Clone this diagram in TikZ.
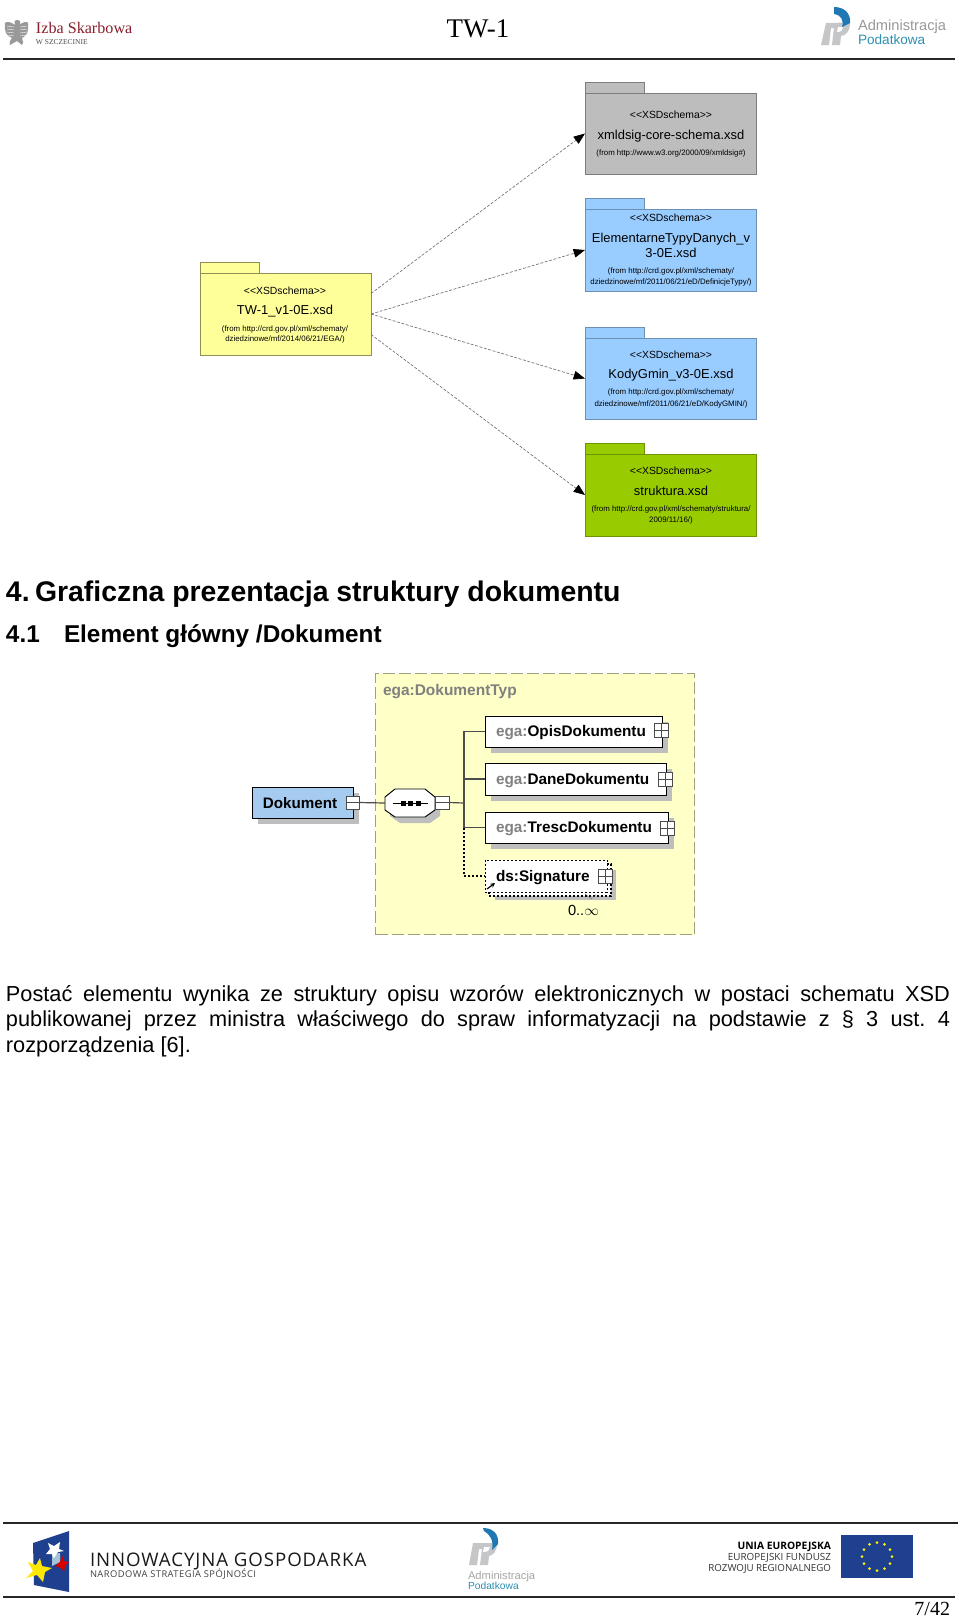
\documentclass[tikz,border=0pt]{standalone}
\usepackage{fontspec}
\setmainfont{Liberation Sans}
\newfontfamily\timesf{Liberation Serif}
\newfontfamily\condf{Open Sans}
\usetikzlibrary{calc,arrows.meta}
\definecolor{pkgY}{HTML}{FFFF99}
\definecolor{pkgYb}{HTML}{8F8F55}
\definecolor{pkgG}{HTML}{BDBDBD}
\definecolor{pkgGb}{HTML}{7D7D7D}
\definecolor{pkgB}{HTML}{99CCFF}
\definecolor{pkgBb}{HTML}{6C90B4}
\definecolor{pkgL}{HTML}{99CC00}
\definecolor{pkgLb}{HTML}{6E9200}
\definecolor{xsdbg}{HTML}{FFFFC8}
\definecolor{xsdborder}{HTML}{A0A080}
\definecolor{xsdblue}{HTML}{A6CBF0}
\definecolor{shadow}{HTML}{BEBEBE}
\definecolor{logoblue}{HTML}{1F78B4}
\definecolor{logogrey}{HTML}{C4C6C8}
\definecolor{logoteal}{HTML}{2F8FB0}
\definecolor{izba}{HTML}{8A1F2B}
\definecolor{navy}{HTML}{1F3F8F}
\newcommand{\fsz}[1]{\fontsize{#1}{#1}\selectfont}
\newcommand{\sttxt}{<{}<XSDschema>{}>}
\tikzset{
 x=0.75pt,y=-0.75pt,
 lbl/.style={inner sep=0pt,outer sep=0pt,anchor=base},
 lbll/.style={inner sep=0pt,outer sep=0pt,anchor=base west},
 lblr/.style={inner sep=0pt,outer sep=0pt,anchor=base east},
 stereo/.style={lbl,font=\fsz{7.8}},
 pname/.style={lbl,font=\fsz{9.7}},
 pfrom/.style={lbl,font=\fsz{5.9}},
 pkgbody/.style={draw=#1,line width=0.6pt,inner sep=0pt,outer sep=0pt,anchor=north west},
 pkgtab/.style={draw=#1,line width=0.6pt},
 dep/.style={draw=black!55,line width=0.5pt,dash pattern=on 2.2pt off 1.2pt,-{Triangle[length=8.5pt,width=6.5pt,black]}},
 xbox/.style={draw=black,line width=0.7pt,fill=white,inner sep=0pt,outer sep=0pt,anchor=north west},
 shad/.style={fill=shadow,draw=none},
 xline/.style={draw=black!70,line width=0.9pt},
 xdot/.style={draw=black,line width=0.8pt,dash pattern=on 1.5pt off 1.5pt},
 exp/.style={draw=black!70,line width=0.6pt,fill=white,inner sep=0pt,outer sep=0pt,anchor=north west},
}
\begin{document}
\begin{tikzpicture}
\useasboundingbox (0,0) rectangle (960,1617);
\fill[white] (0,0) rectangle (960,1617);
% ---------- header
\draw[line width=1.5pt,black!85] (3,58.7) -- (955,58.7);
\node[lbl,font=\timesf\fsz{20.2}] (title) at (478,37) {TW-1};
\node[lbll,font=\timesf\fsz{12.1},text=izba] (izbaname) at (36,33) {Izba Skarbowa};
\node[lbll,font=\timesf\fsz{5.6},text=black!70] (izbacity) at (36,44) {W SZCZECINIE};
% eagle
\fill[black!40] (17,20) .. controls (21,20) and (21,23) .. (19,25) .. controls (23,22) and (27,21) .. (28,23) .. controls (29,31) and (27,36) .. (22,38) .. controls (23,41) and (24,44) .. (22,45) .. controls (20,43) and (18,42) .. (17,41) .. controls (15,42) and (12,44) .. (10,45) .. controls (9,43) and (10,40) .. (12,38) .. controls (6,36) and (4,31) .. (5,23) .. controls (7,21) and (11,22) .. (15,25) .. controls (14,23) and (14,20) .. (17,20) -- cycle;
\foreach \yy in {26,29,32,35}{\draw[white,line width=0.3pt] (7,\yy) -- (14,\yy+1) (20,\yy+1) -- (27,\yy);}
% admin logo header
\fill[logogrey] (826,23) -- (850,22.5) .. controls (850,32) and (846,35) .. (841,36) -- (840,45) -- (832,45) -- (834,28) -- (831,28) -- (829,45) -- (821,45) -- cycle;
\fill[white] (838,27) -- (843,27) .. controls (843,30) and (841,32) .. (837,32) -- cycle;
\fill[logoblue] (834,7) .. controls (844,7) and (851,13) .. (850,23) -- (842,27) .. controls (844,20) and (841,15) .. (834,14) -- cycle;
\node[lbll,font=\fsz{11},text=black!40] (adminA) at (858,30) {Administracja};
\node[lbll,font=\fsz{10.2},text=logoteal] (adminP) at (858,44) {Podatkowa};
% ---------- packages
\fill[pkgY] (200,262) rectangle (259,273);
\draw[pkgtab=pkgYb] (200,262) rectangle (259,273);
\node[pkgbody=pkgYb,fill=pkgY,minimum width=128.25pt,minimum height=61.5pt] (yellow) at (200,273) {};
\node[stereo] (y1) at (285,294) {\sttxt};
\node[pname] (y2) at (285,314) {TW-1\_v1-0E.xsd};
\node[pfrom] (y3) at (285,331) {(from http://crd.gov.pl/xml/schematy/};
\node[pfrom] (y4) at (285,341.5) {dziedzinowe/mf/2014/06/21/EGA/)};

\fill[pkgG] (585,82) rectangle (644,93);
\draw[pkgtab=pkgGb] (585,82) rectangle (644,93);
\node[pkgbody=pkgGb,fill=pkgG,minimum width=128.25pt,minimum height=60.75pt] (gray) at (585,93) {};
\node[stereo] (g1) at (671,118) {\sttxt};
\node[pname] (g2) at (671,139) {xmldsig-core-schema.xsd};
\node[pfrom] (g3) at (671,155) {(from http://www.w3.org/2000/09/xmldsig\#)};

\fill[pkgB] (585,198) rectangle (644,209);
\draw[pkgtab=pkgBb] (585,198) rectangle (644,209);
\node[pkgbody=pkgBb,fill=pkgB,minimum width=128.25pt,minimum height=61.5pt] (blueA) at (585,209) {};
\node[stereo] (a1) at (671,221) {\sttxt};
\node[pname] (a2) at (671,242) {ElementarneTypyDanych\_v};
\node[pname] (a3) at (671,257) {3-0E.xsd};
\node[pfrom] (a4) at (671,273) {(from http://crd.gov.pl/xml/schematy/};
\node[pfrom] (a5) at (671,284) {dziedzinowe/mf/2011/06/21/eD/DefinicjeTypy/)};

\fill[pkgB] (585,327) rectangle (644,338);
\draw[pkgtab=pkgBb] (585,327) rectangle (644,338);
\node[pkgbody=pkgBb,fill=pkgB,minimum width=128.25pt,minimum height=60.75pt] (blueB) at (585,338) {};
\node[stereo] (b1) at (671,358) {\sttxt};
\node[pname] (b2) at (671,378) {KodyGmin\_v3-0E.xsd};
\node[pfrom] (b3) at (671,394) {(from http://crd.gov.pl/xml/schematy/};
\node[pfrom] (b4) at (671,406) {dziedzinowe/mf/2011/06/21/eD/KodyGMIN/)};

\fill[pkgL] (585,443) rectangle (644,454);
\draw[pkgtab=pkgLb] (585,443) rectangle (644,454);
\node[pkgbody=pkgLb,fill=pkgL,minimum width=128.25pt,minimum height=61.5pt] (green) at (585,454) {};
\node[stereo] (c1) at (671,474) {\sttxt};
\node[pname] (c2) at (671,495) {struktura.xsd};
\node[pfrom] (c3) at (671,511) {(from http://crd.gov.pl/xml/schematy/struktura/};
\node[pfrom] (c4) at (671,522) {2009/11/16/)};

\draw[dep] ($(yellow.north east)!.25!(yellow.south east)$) -- (gray.west);
\draw[dep] (yellow.east) -- (blueA.west);
\draw[dep] (yellow.east) -- (blueB.west);
\draw[dep] ($(yellow.north east)!.75!(yellow.south east)$) -- (green.west);
% ---------- headings
\node[lbll,font=\fsz{21.3}\bfseries] (h1n) at (6,601) {4.};
\node[lbll,font=\fsz{21.3}\bfseries] (h1) at (35,601) {Graficzna prezentacja struktury dokumentu};
\node[lbll,font=\fsz{18.25}\bfseries] (h2n) at (6,642) {4.1};
\node[lbll,font=\fsz{18.25}\bfseries] (h2) at (64,642) {Element główny /Dokument};
% ---------- xsd diagram
\node[draw=xsdborder,fill=xsdbg,line width=1pt,dash pattern=on 9pt off 3pt,inner sep=0pt,anchor=north west,minimum width=239.25pt,minimum height=195.75pt] (ctype) at (375,673) {};
\node[lbll,font=\fsz{11.6}\bfseries,text=black!50] (ctypeL) at (383,695) {ega:DokumentTyp};
% shadows
\fill[shad] (258,793) rectangle (359,824);
\fill[shad] (400,795) -- (430,795) -- (440,803) -- (440,816) -- (430,823) -- (400,823) -- (390,816) -- (390,803) -- cycle;
\fill[shad] (491,722) rectangle (668,753);
\fill[shad] (491,769) rectangle (672,801);
\fill[shad] (491,818) rectangle (674,849);
\fill[shad] (495,870) rectangle (616,900);
% connector skeleton
\coordinate (bus) at (464,803);
\node[xbox,fill=xsdblue,minimum width=75.75pt,minimum height=23.25pt] (dok) at (252,787) {};
\node[lbl,font=\fsz{11.4}\bfseries] (dokL) at (300,808.5) {Dokument};
\node[exp,minimum width=9.75pt,minimum height=9.75pt] (dokM) at (346,796) {};
\draw[black!70,line width=0.6pt] (dokM.west) -- (dokM.east);
\node[inner sep=0pt,outer sep=0pt,minimum width=37.5pt,minimum height=21pt] (seq) at (410,803) {};
\draw[draw=black,line width=0.7pt,fill=white] (395,789) -- (425,789) -- (435,797) -- (435,810) -- (425,817) -- (395,817) -- (385,810) -- (385,797) -- cycle;
\draw[black,line width=0.6pt] (393,803) -- (428,803);
\foreach \xx in {403,410.5,418}{\fill[black] (\xx-2.5,800.5) rectangle (\xx+2.5,805.5);}
\node[exp,minimum width=10.5pt,minimum height=9.75pt] (seqM) at (435,796) {};
\draw[black!70,line width=0.6pt] (seqM.west) -- (seqM.east);
\draw[xline] (dokM.east) -- (seq.west);
\draw[xline] (seqM.east) -- (bus);

\node[xbox,minimum width=132.75pt,minimum height=23.25pt] (opis) at (485,716) {};
\node[xbox,minimum width=135.75pt,minimum height=24pt] (dane) at (485,763) {};
\node[xbox,minimum width=137.25pt,minimum height=23.25pt] (tresc) at (485,812) {};
\draw[xline] (464,731) -- (464,828);
\draw[xline] (464,731.5) -- (opis.west);
\draw[xline] (464,779) -- (dane.west);
\draw[xline] (464,827.5) -- (tresc.west);

\node[lbll,font=\fsz{11.5}\bfseries] (opisL) at (496,736) {\textcolor{black!50}{ega:}OpisDokumentu};
\node[lbll,font=\fsz{11.5}\bfseries] (daneL) at (496,784) {\textcolor{black!50}{ega:}DaneDokumentu};
\node[lbll,font=\fsz{11.5}\bfseries] (trescL) at (496,832) {\textcolor{black!50}{ega:}TrescDokumentu};
\foreach \nm/\xx/\yy in {opisP/654/723,daneP/658/772,trescP/660/821}{
 \node[exp,minimum width=10.5pt,minimum height=10.5pt] (\nm) at (\xx,\yy) {};
 \draw[black!70,line width=0.6pt] (\nm.west) -- (\nm.east) (\nm.north) -- (\nm.south);
}
% signature (dotted double outline)
\draw[xdot,fill=white] (489,864) rectangle (611,896);
\node[xbox,draw=black,dash pattern=on 1.5pt off 1.5pt,minimum width=91.5pt,minimum height=24pt] (sig) at (485,860) {};
\node[exp,minimum width=10.5pt,minimum height=10.5pt] (sigP) at (598,869) {};
\draw[black!70,line width=0.6pt] (sigP.west) -- (sigP.east) (sigP.north) -- (sigP.south);
\node[lbll,font=\fsz{11.5}\bfseries] (sigL) at (496,881) {ds:Signature};
\draw[xdot] (464,828) -- (464,876) -- (sig.west);
\draw[black,line width=0.9pt,-{Stealth[length=3.5pt,width=3.5pt]}] (487,889) -- (495,883);
\draw[black!60,line width=0.5pt,dash pattern=on 1pt off 1pt] (585,894) -- (591,899) -- (597,894);
\node[lbll,font=\fsz{11}] (occ) at (568,915) {0..$\infty$};
% ---------- paragraph
\node[inner sep=0pt,outer sep=0pt,anchor=base west,text width=708pt,align=justify,font=\fontsize{16.3}{19.4}\selectfont] (para) at (6,1001) {\frenchspacing Postać elementu wynika ze struktury opisu wzorów elektronicznych w postaci schematu XSD\linebreak publikowanej przez ministra właściwego do spraw informatyzacji na podstawie z § 3 ust. 4\linebreak rozporządzenia [6].};
% ---------- footer
\draw[line width=1.5pt,black!85] (3,1523) -- (958,1523);
\draw[line width=1.2pt,black!85] (3,1597) -- (955,1597);
% innowacyjna logo
\fill[navy] (33,1543) -- (69,1531) -- (69,1592) -- (34,1585) -- cycle;
\fill[black!12!logoblue!40] (52,1554) -- (60,1553) -- (60,1562) -- (52,1566) -- cycle;
\fill[white] (60,1542) -- (59,1549) -- (64,1551) -- (58,1552) -- (54,1558) -- (52,1554) -- (46,1554) -- (50,1549) -- (48,1543) -- (54,1546) -- cycle;
\fill[red!85!black] (62,1555) -- (64,1561) -- (69,1562) -- (65,1566) -- (64,1572) -- (61,1568) -- (55,1566) -- (60,1562) -- cycle;
\fill[yellow!90!orange] (40,1558) -- (42,1566) -- (52,1568) -- (45,1572) -- (43,1582) -- (37,1575) -- (26,1578) -- (33,1571) -- (28,1562) -- (36,1565) -- cycle;
\node[lbll,font=\condf\fsz{14}\addfontfeature{LetterSpace=5},text=black!90] (ig1) at (90,1566) {INNOWACYJNA GOSPODARKA};
\node[lbll,font=\condf\fsz{7}\addfontfeature{LetterSpace=5},text=black!75] (ig2) at (90,1577) {NARODOWA STRATEGIA SPÓJNOŚCI};
% middle admin logo
\fill[logogrey] (473,1543) -- (497,1543) .. controls (497,1552) and (493,1555) .. (489,1556) -- (488,1565) -- (480,1565) -- (482,1549) -- (479,1549) -- (477,1565) -- (469,1565) -- cycle;
\fill[white] (484,1547) -- (490,1547) .. controls (490,1550) and (488,1552) .. (483,1552) -- cycle;
\fill[logoblue] (483,1528) .. controls (494,1528) and (499,1535) .. (498,1544) -- (492,1550) .. controls (494,1541) and (490,1534) .. (484,1531) -- cycle;
\node[lbll,font=\fsz{8.4},text=black!35] (mAdmin) at (468,1579) {Administracja};
\node[lbll,font=\fsz{7.7},text=logoteal] (mPod) at (468,1589) {Podatkowa};
% EU
\node[lblr,font=\condf\fsz{7.7}\bfseries] (eu1) at (831,1549) {UNIA EUROPEJSKA};
\node[lblr,font=\condf\fsz{7.4},text=black!80] (eu2) at (831,1560) {EUROPEJSKI FUNDUSZ};
\node[lblr,font=\condf\fsz{7.3},text=black!80] (eu3) at (831,1571) {ROZWOJU REGIONALNEGO};
\fill[navy] (841,1535) rectangle (913,1578);
\foreach \aa in {0,30,...,330}{\fill[yellow] ($(877,1556.5)+(\aa:15 and 14)$) circle (1.5);}
\node[lblr,font=\timesf\fsz{15}] (pg) at (950,1615) {7/42};
\end{tikzpicture}
\end{document}
